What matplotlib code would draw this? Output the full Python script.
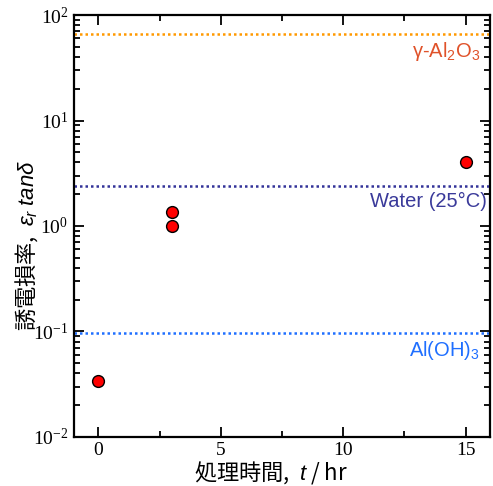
import matplotlib
matplotlib.use("Agg")
import matplotlib.pyplot as plt
from matplotlib.ticker import MultipleLocator, LogLocator, NullFormatter

plt.rcParams["mathtext.fontset"] = "custom"
plt.rcParams["mathtext.rm"] = "Liberation Sans"
plt.rcParams["mathtext.sf"] = "Liberation Sans"
plt.rcParams["mathtext.it"] = "Liberation Sans:italic"
plt.rcParams["mathtext.bf"] = "Liberation Sans:bold"

time_hr = [0, 3, 3, 15]
loss = [0.034, 0.99, 1.36, 4.04]
ref_names = [r"$\mathsf{\gamma}$-$\mathsf{Al_2O_3}$", "Water (25°C)", r"$\mathsf{Al(OH)_3}$"]
ref_values = [66, 2.39, 0.097]
ref_line_colors = ["#ff9900", "#333399", "#1f6fff"]
ref_text_colors = ["#e0522a", "#3a3a9a", "#1f6fff"]
ref_text_dx = [-7, -2, -7]

fig = plt.figure(figsize=(4.93, 4.86), dpi=100)
ax = fig.add_axes([0.150, 0.101, 0.844, 0.868])
ax.set_yscale("log")
ax.set_xlim(-1, 16)
ax.set_ylim(1e-2, 1e2)

for v, lc in zip(ref_values, ref_line_colors):
    ax.axhline(v, color=lc, linestyle=(0, (1, 1.2)), linewidth=1.8, zorder=1)

for name, v, tc, dx in zip(ref_names, ref_values, ref_text_colors, ref_text_dx):
    ax.annotate(name, xy=(1, v), xycoords=("axes fraction", "data"),
                xytext=(dx, -4.5), textcoords="offset points",
                color=tc, ha="right", va="top", fontsize=14.5,
                family=["Liberation Sans"])

ax.plot(time_hr, loss, "o", color="red", markeredgecolor="black", markersize=8.5,
        markeredgewidth=1.0, zorder=3, linestyle="none")

ax.xaxis.set_major_locator(MultipleLocator(5))
ax.xaxis.set_minor_locator(MultipleLocator(2.5))
ax.yaxis.set_major_locator(LogLocator(base=10, numticks=10))
ax.yaxis.set_minor_locator(LogLocator(base=10, subs=range(2, 10), numticks=20))
ax.yaxis.set_minor_formatter(NullFormatter())
ax.tick_params(which="both", direction="in", top=True, right=True, width=1.3)
ax.tick_params(which="major", length=7, labelsize=14)
ax.tick_params(axis="x", which="major", pad=4)
ax.tick_params(axis="y", which="major", pad=4)
ax.tick_params(which="minor", length=4)
for lab in ax.get_xticklabels() + ax.get_yticklabels():
    lab.set_family("Liberation Serif")
for s in ax.spines.values():
    s.set_linewidth(1.6)

cjk = "Noto Sans CJK JP"
ax.set_xlabel(r"処理時間,  $t$ / hr", fontsize=16, family=cjk)
ax.set_ylabel(r"誘電損率,  $\varepsilon_r$ $tan\delta$", fontsize=16, family=cjk)
ax.xaxis.set_label_coords(0.474, -0.052)
ax.yaxis.set_label_coords(-0.082, 0.455)

fig.savefig("out.png", dpi=100)
